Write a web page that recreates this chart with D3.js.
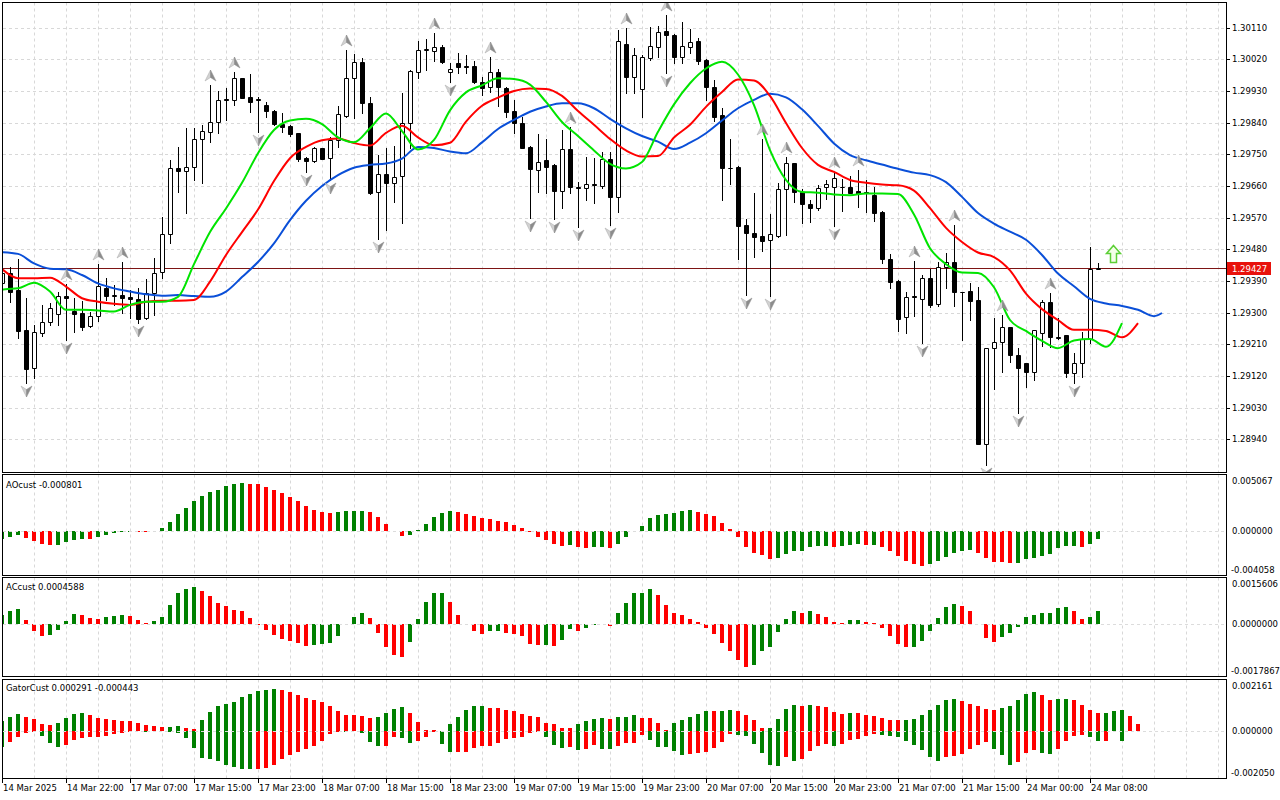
<!DOCTYPE html>
<html>
<head>
<meta charset="utf-8">
<script src="https://cdn.jsdelivr.net/npm/d3@7"></script>
<style>
  body { margin: 0; background: #fff; }
  svg { display: block; }
  text { font-family: "DejaVu Sans", sans-serif; font-size: 8.5px; fill: #000; }
</style>
</head>
<body>
<script>
var width = 1280,
    height = 800;

// H1 candles, 14 Mar 2025 14:00 onwards
var opens = [1.29383,1.29412,1.29364,1.29251,1.29142,1.29243,1.29274,1.29296,1.29347,1.29305,
  1.29300,1.29262,1.29290,1.29371,1.29348,1.29350,1.29345,1.29339,1.29284,1.29355,
  1.29416,1.29523,1.29710,1.29704,1.29713,1.29793,1.29814,1.29843,1.29907,1.29905,
  1.29966,1.29912,1.29907,1.29890,1.29873,1.29835,1.29831,1.29810,1.29739,1.29732,
  1.29767,1.29739,1.29791,1.29860,1.29966,1.30012,1.29895,1.29644,1.29694,1.29668,
  1.29689,1.29840,1.29985,1.30047,1.30045,1.30054,1.29983,1.30009,1.30001,1.30001,
  1.29957,1.29941,1.29983,1.29938,1.29873,1.29838,1.29771,1.29706,1.29734,1.29720,
  1.29647,1.29764,1.29658,1.29654,1.29665,1.29661,1.29736,1.29628,1.30064,1.29969,
  1.29935,1.30023,1.30056,1.30101,1.30090,1.30026,1.30056,1.30072,1.30018,1.29941,
  1.29862,1.29712,1.29715,1.29549,1.29527,1.29518,1.29507,1.29518,1.29651,1.29725,
  1.29644,1.29608,1.29597,1.29656,1.29658,1.29656,1.29656,1.29646,1.29643,1.29634,
  1.29587,1.29452,1.29390,1.29287,1.29347,1.29338,1.29398,1.29324,1.29429,1.29445,
  1.29360,1.29361,1.29336,1.28926,1.29199,1.29216,1.29258,1.29179,1.29156,1.29132,
  1.29243,1.29329,1.29232,1.29236,1.29128,1.29158,1.29224,1.29423];
var highs = [1.29427,1.29431,1.29452,1.29341,1.29265,1.29322,1.29328,1.29360,1.29381,1.29341,
  1.29334,1.29303,1.29438,1.29399,1.29379,1.29445,1.29364,1.29369,1.29395,1.29454,
  1.29573,1.29734,1.29772,1.29824,1.29826,1.29834,1.29947,1.29931,1.29938,1.29985,
  1.29968,1.29979,1.29914,1.29900,1.29875,1.29867,1.29834,1.29812,1.29741,1.29772,
  1.29768,1.29800,1.29888,1.30047,1.30035,1.30023,1.29912,1.29748,1.29767,1.29774,
  1.29924,1.29990,1.30073,1.30077,1.30096,1.30061,1.30011,1.30037,1.30033,1.30016,
  1.29971,1.30026,1.29992,1.29941,1.29905,1.29857,1.29773,1.29807,1.29793,1.29722,
  1.29819,1.29828,1.29672,1.29742,1.29739,1.29757,1.29757,1.30102,1.30109,1.30052,
  1.30033,1.30113,1.30115,1.30146,1.30092,1.30127,1.30106,1.30080,1.30020,1.29961,
  1.29881,1.29793,1.29717,1.29565,1.29641,1.29793,1.29580,1.29669,1.29743,1.29726,
  1.29651,1.29620,1.29663,1.29677,1.29700,1.29679,1.29689,1.29706,1.29677,1.29658,
  1.29590,1.29467,1.29392,1.29360,1.29448,1.29407,1.29423,1.29445,1.29469,1.29549,
  1.29360,1.29383,1.29372,1.29199,1.29285,1.29293,1.29259,1.29199,1.29157,1.29251,
  1.29336,1.29355,1.29284,1.29236,1.29184,1.29246,1.29486,1.29440];
var lows = [1.29370,1.29331,1.29227,1.29099,1.29113,1.29234,1.29265,1.29265,1.29222,1.29246,
  1.29251,1.29260,1.29277,1.29336,1.29322,1.29299,1.29284,1.29271,1.29281,1.29293,
  1.29398,1.29499,1.29644,1.29584,1.29677,1.29669,1.29786,1.29810,1.29848,1.29890,
  1.29910,1.29871,1.29814,1.29855,1.29834,1.29814,1.29803,1.29732,1.29701,1.29729,
  1.29736,1.29677,1.29772,1.29857,1.29853,1.29867,1.29636,1.29509,1.29535,1.29615,
  1.29556,1.29767,1.29966,1.29990,1.30016,1.30009,1.29957,1.29982,1.29981,1.29954,
  1.29919,1.29928,1.29886,1.29855,1.29810,1.29767,1.29568,1.29644,1.29639,1.29565,
  1.29597,1.29641,1.29544,1.29620,1.29611,1.29654,1.29549,1.29587,1.29925,1.29925,
  1.29857,1.30018,1.30026,1.29982,1.30009,1.30011,1.30037,1.30007,1.29905,1.29846,
  1.29620,1.29666,1.29452,1.29350,1.29457,1.29476,1.29347,1.29516,1.29521,1.29615,
  1.29556,1.29559,1.29592,1.29622,1.29546,1.29590,1.29639,1.29601,1.29587,1.29561,
  1.29440,1.29369,1.29249,1.29241,1.29290,1.29215,1.29317,1.29320,1.29369,1.29319,
  1.29222,1.29279,1.28926,1.28867,1.29082,1.29132,1.29160,1.29015,1.29089,1.29108,
  1.29205,1.29203,1.29224,1.29118,1.29101,1.29118,1.29215,1.29423];
var closes = [1.29412,1.29360,1.29249,1.29139,1.29244,1.29274,1.29312,1.29347,1.29341,1.29295,
  1.29260,1.29290,1.29376,1.29348,1.29349,1.29342,1.29338,1.29283,1.29355,1.29412,
  1.29523,1.29710,1.29704,1.29713,1.29793,1.29816,1.29843,1.29905,1.29904,1.29966,
  1.29911,1.29898,1.29904,1.29872,1.29836,1.29829,1.29808,1.29736,1.29732,1.29767,
  1.29738,1.29791,1.29864,1.29966,1.30012,1.29895,1.29641,1.29694,1.29668,1.29685,
  1.29840,1.29987,1.30047,1.30048,1.30054,1.30012,1.29992,1.29999,1.29998,1.29957,
  1.29938,1.29983,1.29941,1.29869,1.29838,1.29769,1.29708,1.29729,1.29715,1.29647,
  1.29764,1.29656,1.29654,1.29665,1.29662,1.29736,1.29630,1.30073,1.29971,1.30033,
  1.30028,1.30058,1.30099,1.30088,1.30026,1.30058,1.30070,1.30016,1.29942,1.29857,
  1.29710,1.29712,1.29546,1.29526,1.29516,1.29505,1.29523,1.29651,1.29725,1.29644,
  1.29608,1.29597,1.29654,1.29666,1.29682,1.29657,1.29641,1.29636,1.29641,1.29584,
  1.29452,1.29388,1.29283,1.29344,1.29344,1.29398,1.29322,1.29429,1.29445,1.29360,
  1.29359,1.29334,1.28928,1.29199,1.29216,1.29258,1.29181,1.29143,1.29132,1.29251,
  1.29329,1.29232,1.29228,1.29128,1.29156,1.29224,1.29423,1.29427];

// Alligator, read every 2nd bar; jaw/teeth/lips run 8/5/3 bars past the last candle
var jaw = [1.29472,1.29467,1.29440,1.29425,1.29423,1.29407,1.29383,1.29369,1.29360,1.29352,
  1.29348,1.29350,1.29347,1.29345,1.29360,1.29401,1.29444,1.29497,1.29563,1.29618,
  1.29660,1.29691,1.29712,1.29720,1.29724,1.29738,1.29771,1.29768,1.29758,1.29753,
  1.29784,1.29822,1.29848,1.29871,1.29886,1.29895,1.29895,1.29881,1.29851,1.29824,
  1.29802,1.29786,1.29765,1.29783,1.29810,1.29846,1.29881,1.29905,1.29922,1.29912,
  1.29878,1.29831,1.29781,1.29748,1.29733,1.29721,1.29709,1.29698,1.29691,1.29671,
  1.29629,1.29583,1.29553,1.29530,1.29507,1.29464,1.29411,1.29375,1.29339,1.29326,
  1.29319,1.29308,1.29290,1.29299];
var teeth = [1.29424,1.29398,1.29398,1.29399,1.29374,1.29341,1.29331,1.29325,1.29322,1.29331,
  1.29334,1.29334,1.29336,1.29388,1.29464,1.29529,1.29593,1.29674,1.29739,1.29771,
  1.29790,1.29795,1.29782,1.29775,1.29811,1.29831,1.29798,1.29776,1.29783,1.29843,
  1.29888,1.29911,1.29930,1.29937,1.29936,1.29916,1.29873,1.29834,1.29794,1.29761,
  1.29744,1.29745,1.29798,1.29834,1.29885,1.29927,1.29963,1.29960,1.29916,1.29839,
  1.29768,1.29720,1.29700,1.29677,1.29669,1.29664,1.29662,1.29647,1.29597,1.29541,
  1.29501,1.29471,1.29458,1.29420,1.29354,1.29310,1.29279,1.29251,1.29251,1.29248,
  1.29230,1.29270];
var lips = [1.29366,1.29369,1.29385,1.29360,1.29308,1.29308,1.29306,1.29303,1.29322,1.29331,
  1.29331,1.29345,1.29438,1.29529,1.29596,1.29669,1.29753,1.29819,1.29846,1.29851,
  1.29836,1.29798,1.29784,1.29824,1.29866,1.29816,1.29764,1.29791,1.29875,1.29926,
  1.29946,1.29966,1.29964,1.29948,1.29899,1.29842,1.29802,1.29761,1.29723,1.29710,
  1.29728,1.29814,1.29892,1.29952,1.29994,1.30013,1.29977,1.29890,1.29762,1.29677,
  1.29643,1.29641,1.29636,1.29634,1.29639,1.29639,1.29637,1.29579,1.29483,1.29438,
  1.29414,1.29413,1.29372,1.29279,1.29248,1.29220,1.29199,1.29221,1.29225,1.29203,
  1.29270];
var jawShift = 8, teethShift = 5, lipsShift = 3;

// bars carrying a fractal
var fractalUp = [8, 12, 15, 26, 29, 43, 54, 61, 71, 78, 83, 95, 98, 104, 107, 114, 119, 125, 131];
var fractalDown = [3, 8, 17, 32, 38, 41, 47, 56, 66, 69, 72, 76, 83, 93, 96, 104, 115, 123, 127, 134];

var ao = [-0.00078,-0.00062,-0.00040,-0.00068,-0.00093,-0.00124,-0.00133,-0.00130,-0.00102,-0.00084,
  -0.00078,-0.00080,-0.00056,-0.00037,-0.00025,-0.00012,-0.00009,-0.00010,-0.00011,-0.00002,
  0.00025,0.00084,0.00155,0.00211,0.00276,0.00326,0.00360,0.00379,0.00410,0.00428,
  0.00444,0.00434,0.00428,0.00406,0.00379,0.00351,0.00313,0.00276,0.00230,0.00192,
  0.00172,0.00163,0.00170,0.00178,0.00183,0.00186,0.00174,0.00127,0.00065,-0.00005,
  -0.00053,-0.00043,0.00009,0.00065,0.00124,0.00164,0.00186,0.00174,0.00158,0.00140,
  0.00115,0.00112,0.00093,0.00078,0.00056,0.00028,-0.00012,-0.00062,-0.00090,-0.00127,
  -0.00146,-0.00137,-0.00155,-0.00164,-0.00155,-0.00152,-0.00164,-0.00121,-0.00062,-0.00006,
  0.00047,0.00121,0.00149,0.00158,0.00168,0.00186,0.00188,0.00177,0.00155,0.00140,
  0.00074,0.00019,-0.00062,-0.00150,-0.00205,-0.00227,-0.00261,-0.00251,-0.00217,-0.00189,
  -0.00188,-0.00149,-0.00143,-0.00142,-0.00149,-0.00140,-0.00130,-0.00124,-0.00133,-0.00130,
  -0.00149,-0.00186,-0.00236,-0.00279,-0.00310,-0.00326,-0.00313,-0.00280,-0.00242,-0.00205,
  -0.00189,-0.00180,-0.00205,-0.00251,-0.00289,-0.00290,-0.00298,-0.00296,-0.00261,-0.00252,
  -0.00233,-0.00214,-0.00164,-0.00140,-0.00139,-0.00149,-0.00121,-0.000801];
var ac = [0.00031,0.00044,0.00051,0.00014,-0.00023,-0.00043,-0.00038,-0.00020,0.00010,0.00033,
  0.00032,0.00020,0.00019,0.00024,0.00027,0.00031,0.00026,0.00014,0.00002,0.00010,
  0.00024,0.00065,0.00106,0.00123,0.00130,0.00116,0.00096,0.00072,0.00061,0.00048,
  0.00046,0.00020,-0.00002,-0.00020,-0.00038,-0.00051,-0.00058,-0.00065,-0.00075,-0.00074,
  -0.00068,-0.00067,-0.00041,0.00001,0.00024,0.00039,0.00021,-0.00030,-0.00081,-0.00108,
  -0.00115,-0.00064,0.00017,0.00076,0.00107,0.00108,0.00076,0.00032,-0.00001,-0.00026,
  -0.00036,-0.00026,-0.00023,-0.00030,-0.00033,-0.00040,-0.00068,-0.00074,-0.00073,-0.00075,
  -0.00057,-0.00019,-0.00023,-0.00013,-0.00002,-0.00001,-0.00006,0.00038,0.00072,0.00106,
  0.00107,0.00123,0.00099,0.00065,0.00038,0.00031,0.00017,0.00007,-0.00014,-0.00033,
  -0.00067,-0.00095,-0.00125,-0.00149,-0.00142,-0.00095,-0.00081,-0.00028,0.00019,0.00044,
  0.00038,0.00045,0.00034,0.00024,0.00006,0.00005,0.00014,0.00015,0.00007,0.00003,
  -0.00013,-0.00041,-0.00068,-0.00081,-0.00079,-0.00060,-0.00024,0.00020,0.00058,0.00068,
  0.00061,0.00044,-0.00001,-0.00048,-0.00064,-0.00044,-0.00032,-0.00009,0.00024,0.00031,
  0.00038,0.00039,0.00055,0.00058,0.00044,0.00017,0.00024,0.0004588];
var gatorUp = [0.00043,0.00057,0.00070,0.00057,0.00049,0.00027,0.00026,0.00033,0.00053,0.00074,
  0.00075,0.00066,0.00053,0.00049,0.00044,0.00043,0.00042,0.00032,0.00023,0.00019,
  0.00014,0.00015,0.00019,0.00009,0.00008,0.00044,0.00083,0.00105,0.00117,0.00126,
  0.00148,0.00160,0.00173,0.00178,0.00180,0.00179,0.00168,0.00155,0.00143,0.00135,
  0.00123,0.00109,0.00087,0.00069,0.00066,0.00062,0.00056,0.00060,0.00077,0.00095,
  0.00103,0.00077,0.00039,0.00004,0.00003,0.00000,0.00027,0.00060,0.00090,0.00107,
  0.00108,0.00099,0.00097,0.00090,0.00086,0.00072,0.00064,0.00060,0.00034,0.00030,
  0.00013,0.00012,0.00030,0.00043,0.00052,0.00056,0.00052,0.00060,0.00061,0.00069,
  0.00056,0.00055,0.00034,0.00004,0.00034,0.00047,0.00060,0.00073,0.00086,0.00085,
  0.00086,0.00090,0.00086,0.00069,0.00047,0.00011,0.00012,0.00052,0.00095,0.00112,
  0.00107,0.00112,0.00107,0.00103,0.00082,0.00073,0.00077,0.00076,0.00069,0.00064,
  0.00056,0.00047,0.00046,0.00047,0.00052,0.00068,0.00090,0.00112,0.00133,0.00137,
  0.00130,0.00116,0.00108,0.00096,0.00090,0.00100,0.00107,0.00133,0.00159,0.00168,
  0.00155,0.00133,0.00137,0.00138,0.00133,0.00112,0.00090,0.00077,0.00078,0.00086,
  0.00090,0.00064,0.000291];
var gatorDown = [-0.00070,-0.00049,-0.00029,-0.00009,-0.00008,-0.00024,-0.00053,-0.00074,-0.00063,-0.00040,
  -0.00034,-0.00029,-0.00028,-0.00023,-0.00017,-0.00009,-0.00006,-0.00004,-0.00006,-0.00003,
  -0.00002,-0.00006,-0.00010,-0.00034,-0.00077,-0.00120,-0.00125,-0.00135,-0.00149,-0.00160,
  -0.00169,-0.00170,-0.00166,-0.00165,-0.00152,-0.00125,-0.00107,-0.00093,-0.00080,-0.00066,
  -0.00044,-0.00014,-0.00006,-0.00007,-0.00002,-0.00010,-0.00050,-0.00067,-0.00066,-0.00029,
  -0.00034,-0.00054,-0.00046,-0.00029,-0.00007,-0.00059,-0.00095,-0.00094,-0.00093,-0.00076,
  -0.00067,-0.00066,-0.00054,-0.00039,-0.00033,-0.00029,-0.00011,-0.00006,-0.00029,-0.00063,
  -0.00076,-0.00072,-0.00085,-0.00080,-0.00063,-0.00080,-0.00081,-0.00067,-0.00054,-0.00053,
  -0.00020,-0.00042,-0.00072,-0.00073,-0.00089,-0.00106,-0.00102,-0.00097,-0.00093,-0.00076,
  -0.00050,-0.00016,-0.00020,-0.00024,-0.00059,-0.00097,-0.00149,-0.00153,-0.00115,-0.00132,
  -0.00123,-0.00089,-0.00067,-0.00059,-0.00067,-0.00059,-0.00042,-0.00037,-0.00024,-0.00016,
  -0.00020,-0.00024,-0.00030,-0.00046,-0.00065,-0.00085,-0.00115,-0.00132,-0.00115,-0.00110,
  -0.00102,-0.00080,-0.00063,-0.00050,-0.00082,-0.00107,-0.00150,-0.00136,-0.00099,-0.00086,
  -0.00099,-0.00103,-0.00082,-0.00047,-0.00026,-0.00021,-0.00030,-0.00047,-0.00046,-0.00002,
  -0.000443];

var priceTicks = [1.30110, 1.30020, 1.29930, 1.29840, 1.29750, 1.29660, 1.29570,
  1.29480, 1.29390, 1.29300, 1.29210, 1.29120, 1.29030, 1.28940];
var priceRange = [1.28847, 1.30183];
var lastPrice = 1.29427;
var aoTicks = [0.005067, 0, -0.004058];
var acTicks = [0.0015606, 0, -0.0017867];
var gatorTicks = [0.002161, 0, -0.002050];
var timeLabels = ['14 Mar 2025', '14 Mar 22:00', '17 Mar 07:00', '17 Mar 15:00', '17 Mar 23:00',
  '18 Mar 07:00', '18 Mar 15:00', '18 Mar 23:00', '19 Mar 07:00', '19 Mar 15:00', '19 Mar 23:00',
  '20 Mar 07:00', '20 Mar 15:00', '20 Mar 23:00', '21 Mar 07:00', '21 Mar 15:00',
  '24 Mar 00:00', '24 Mar 08:00'];
var timeLabelStep = 8;
var signalArrow = {bar: 139, price: 1.29492};

var green = '#008000', red = '#ff0000', gridColor = '#d8d8d8';

var svg = d3.select('body')
  .append('svg')
    .attr('width', width)
    .attr('height', height);

var x = d3.scaleLinear().domain([0, 153]).range([2, 1226]);
function px(i){ return Math.round(x(i)); }

var panes = {
  main:  {top: 2.5,   bottom: 472.5},
  ao:    {top: 474.5, bottom: 575.5},
  ac:    {top: 577.5, bottom: 676.5},
  gator: {top: 679.5, bottom: 778.5}
};

var defs = svg.append('defs');
function makePane(name){
  var p = panes[name];
  defs.append('clipPath').attr('id', 'clip-' + name)
    .append('rect')
      .attr('x', 3).attr('y', p.top + 0.5)
      .attr('width', 1223).attr('height', p.bottom - p.top - 1);
  var g = svg.append('g').attr('clip-path', 'url(#clip-' + name + ')');
  g.selectAll(null)
      .data(d3.range(0, 153, 4)).enter()
    .append('line')
      .attr('x1', function(b){ return px(b) + 0.5; })
      .attr('x2', function(b){ return px(b) + 0.5; })
      .attr('y1', p.top).attr('y2', p.bottom)
      .attr('stroke', gridColor)
      .attr('stroke-dasharray', '3,3');
  return g;
}

// ---------- main pane ----------
var y = d3.scaleLinear().domain(priceRange).range([472, 2]);
var main = makePane('main');

main.selectAll(null)
    .data(priceTicks).enter()
  .append('line')
    .attr('x1', 3).attr('x2', 1226)
    .attr('y1', function(d){ return Math.round(y(d)) + 0.5; })
    .attr('y2', function(d){ return Math.round(y(d)) + 0.5; })
    .attr('stroke', gridColor)
    .attr('stroke-dasharray', '3,3');

var lastY = Math.round(y(lastPrice)) + 0.5;
main.append('line')
    .attr('x1', 3).attr('x2', 1226)
    .attr('y1', lastY).attr('y2', lastY)
    .attr('stroke', '#7d1414');

var bars = d3.range(closes.length);
main.selectAll(null)
    .data(bars).enter()
  .append('line')
    .attr('x1', function(i){ return px(i) + 0.5; })
    .attr('x2', function(i){ return px(i) + 0.5; })
    .attr('y1', function(i){ return Math.round(y(highs[i])); })
    .attr('y2', function(i){ return Math.round(y(lows[i])) + 1; })
    .attr('stroke', '#000');

main.selectAll(null)
    .data(bars).enter()
  .append('path')
    .attr('d', function(i){
      var top = Math.round(y(Math.max(opens[i], closes[i]))) + 0.5;
      var bot = Math.round(y(Math.min(opens[i], closes[i]))) + 0.5;
      var l = px(i) - 1.5;
      return 'M' + l + ',' + top + 'h4V' + bot + 'h-4Z';
    })
    .attr('fill', function(i){ return closes[i] >= opens[i] ? '#fff' : '#000'; })
    .attr('stroke', '#000');

function alligator(values, shift, color){
  var last = closes.length - 1 + shift;
  var pts = values.map(function(v, k){ return [x(Math.min(k * 2, last)), y(v)]; });
  main.append('path')
    .datum(pts)
    .attr('d', d3.line().curve(d3.curveMonotoneX))
    .attr('fill', 'none')
    .attr('stroke', color)
    .attr('stroke-width', 2)
    .attr('stroke-linejoin', 'round');
}
alligator(jaw, jawShift, '#0a4fd8');
alligator(teeth, teethShift, '#ff0000');
alligator(lips, lipsShift, '#00e400');

function fractal(cx, cy, s){
  main.append('path')
    .attr('d', 'M' + cx + ',' + (cy - 6 * s) + 'L' + (cx - 5.5) + ',' + (cy + 5 * s) + 'L' + cx + ',' + (cy + 1.5 * s) + 'Z')
    .attr('fill', '#d2d2d2').attr('stroke', '#a8a8a8').attr('stroke-width', 0.5);
  main.append('path')
    .attr('d', 'M' + cx + ',' + (cy - 6 * s) + 'L' + (cx + 5.5) + ',' + (cy + 5 * s) + 'L' + cx + ',' + (cy + 1.5 * s) + 'Z')
    .attr('fill', '#8c8c8c').attr('stroke', '#8c8c8c').attr('stroke-width', 0.5);
}
fractalUp.forEach(function(i){ fractal(px(i) + 0.5, Math.round(y(highs[i])) - 9, 1); });
fractalDown.forEach(function(i){ fractal(px(i) + 0.5, Math.round(y(lows[i])) + 8, -1); });

(function(){
  var cx = px(signalArrow.bar) - 0.5, ty = Math.round(y(signalArrow.price)) + 0.5;
  main.append('path')
    .attr('d', 'M' + cx + ',' + ty + 'l7,8h-4v9h-6v-9h-4Z')
    .attr('fill', '#f4ffe8')
    .attr('stroke', '#5ccf36')
    .attr('stroke-width', 1.5);
})();

// price axis
svg.selectAll(null)
    .data(priceTicks).enter()
  .append('line')
    .attr('x1', 1226.5).attr('x2', 1230)
    .attr('y1', function(d){ return Math.round(y(d)) + 0.5; })
    .attr('y2', function(d){ return Math.round(y(d)) + 0.5; })
    .attr('stroke', '#000');
svg.selectAll(null)
    .data(priceTicks).enter()
  .append('text')
    .attr('x', 1232)
    .attr('y', function(d){ return y(d); })
    .attr('dominant-baseline', 'central')
    .text(function(d){ return d.toFixed(5); });

svg.append('rect')
    .attr('x', 1227).attr('y', lastY - 6.5)
    .attr('width', 44).attr('height', 13)
    .attr('fill', '#e8120c');
svg.append('text')
    .attr('x', 1232).attr('y', lastY)
    .attr('dominant-baseline', 'central')
    .style('fill', '#fff')
    .text(lastPrice.toFixed(5));

// ---------- indicator panes ----------
function histogram(g, values, ys, isUp){
  var zero = Math.round(ys(0));
  g.selectAll(null)
      .data(values).enter()
    .append('rect')
      .attr('x', function(d, i){ return px(i) - 2; })
      .attr('width', 4)
      .attr('y', function(d){ return Math.min(Math.round(ys(d)), zero); })
      .attr('height', function(d){ return Math.abs(Math.round(ys(d)) - zero); })
      .attr('fill', function(d, i){ return isUp(d, i) ? green : red; });
}

function zeroLine(g, ys){
  var z = Math.round(ys(0)) + 0.5;
  g.append('line')
    .attr('x1', 3).attr('x2', 1226)
    .attr('y1', z).attr('y2', z)
    .attr('stroke', '#dcdcdc')
    .attr('stroke-dasharray', '3,3');
}

function axisLabels(ticks, ys, digits){
  svg.selectAll(null)
      .data(ticks).enter()
    .append('text')
      .attr('x', function(d){ return d < 0 ? 1231 : 1232; })
      .attr('y', function(d, k){ return ys(d) + (k === 0 ? 5 : k === 2 ? -5 : 0); })
      .attr('dominant-baseline', 'central')
      .text(function(d){ return d.toFixed(digits); });
}

function rising(values){
  return function(d, i){ return i === 0 || d > values[i - 1]; };
}

var yAo = d3.scaleLinear().domain([aoTicks[2], aoTicks[0]]).range([574.5, 476]);
var gAo = makePane('ao');
histogram(gAo, ao, yAo, rising(ao));
zeroLine(gAo, yAo);
axisLabels(aoTicks, yAo, 6);

var yAc = d3.scaleLinear().domain([acTicks[2], acTicks[0]]).range([675.5, 579]);
var gAc = makePane('ac');
histogram(gAc, ac, yAc, rising(ac));
zeroLine(gAc, yAc);
axisLabels(acTicks, yAc, 7);

var yGator = d3.scaleLinear().domain([gatorTicks[2], gatorTicks[0]]).range([777.5, 681]);
var gGator = makePane('gator');
histogram(gGator, gatorUp, yGator, rising(gatorUp));
histogram(gGator, gatorDown, yGator, function(d, i){
  return i === 0 || Math.abs(d) > Math.abs(gatorDown[i - 1]);
});
zeroLine(gGator, yGator);
axisLabels(gatorTicks, yGator, 6);

svg.append('text').attr('x', 6).attr('y', 485).attr('dominant-baseline', 'central')
  .text('AOcust ' + ao[ao.length - 1].toFixed(6));
svg.append('text').attr('x', 6).attr('y', 587).attr('dominant-baseline', 'central')
  .text('ACcust ' + ac[ac.length - 1].toFixed(7));
svg.append('text').attr('x', 6).attr('y', 688).attr('dominant-baseline', 'central')
  .text('GatorCust ' + gatorUp[gatorUp.length - 1].toFixed(6) + ' ' + gatorDown[gatorDown.length - 1].toFixed(6));

// pane frames
Object.keys(panes).forEach(function(k){
  var p = panes[k];
  svg.append('rect')
    .attr('x', 2.5).attr('y', p.top)
    .attr('width', 1224).attr('height', p.bottom - p.top)
    .attr('fill', 'none')
    .attr('stroke', '#000');
});

// time axis
svg.selectAll(null)
    .data(timeLabels).enter()
  .append('line')
    .attr('x1', function(d, k){ return px(k * timeLabelStep) + 0.5; })
    .attr('x2', function(d, k){ return px(k * timeLabelStep) + 0.5; })
    .attr('y1', 778.5).attr('y2', 783)
    .attr('stroke', '#000');
svg.selectAll(null)
    .data(timeLabels).enter()
  .append('text')
    .attr('x', function(d, k){ return px(k * timeLabelStep) + 1; })
    .attr('y', 788)
    .attr('dominant-baseline', 'central')
    .text(function(d){ return d; });
</script>
</body>
</html>
